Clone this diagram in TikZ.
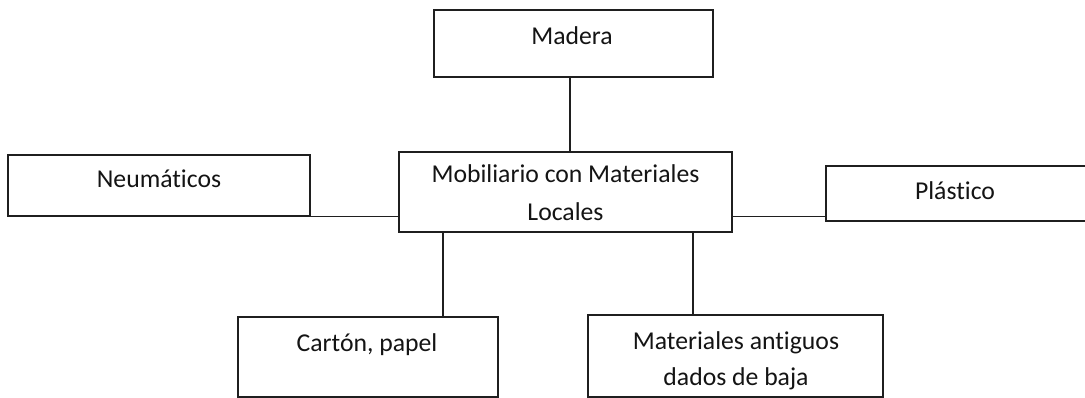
\documentclass[tikz,border=0pt]{standalone}
\usepackage{fontspec}
\setmainfont[Ligatures={NoCommon,TeX}]{Carlito}
\usetikzlibrary{calc}
\tikzset{
  box/.style={draw=black!88, line width=1.5pt, fill=white, inner sep=0pt, rectangle},
  lbl/.style={anchor=base, inner sep=0pt, font=\fontsize{25.7}{37}\selectfont, text=black!92},
  conn/.style={draw=black!88, line width=1.5pt},
}
\begin{document}
\begin{tikzpicture}[x=1pt,y=-1pt]
\useasboundingbox[fill=white] (0,0) rectangle (1085,398);
% boxes
\node[box, minimum width=279pt, minimum height=67pt] (madera) at (573.5,43.5) {};
\node[box, minimum width=333pt, minimum height=80pt] (mcl) at (565.5,192) {};
\node[box, minimum width=302pt, minimum height=61pt] (neu) at (159,185.5) {};
\node[box, minimum width=260pt, minimum height=55pt] (pla) at (956,193.5) {};
\node[box, minimum width=260pt, minimum height=80pt] (carton) at (368,357) {};
\node[box, minimum width=295pt, minimum height=82pt] (mat) at (735.5,356) {};
% texts
\node[lbl] (tmadera) at (572,45) {Madera};
\node[lbl] (tmcl1) at (565.5,183) {Mobiliario con Materiales};
\node[lbl] (tmcl2) at (565.5,221) {Locales};
\node[lbl] (tneu) at (159,188) {Neumáticos};
\node[lbl] (tpla) at (955,200) {Plástico};
\node[lbl] (tcarton) at (367,352) {Cartón, papel};
\node[lbl] (tmat1) at (736,349) {Materiales antiguos};
\node[lbl] (tmat2) at (736,385) {dados de baja};
% connectors
\draw[conn] ([xshift=-3.5pt]madera.south) -- ([xshift=-3.5pt]madera.south |- mcl.north);
\draw[conn] (neu.south east) -- (neu.south east -| mcl.west);
\draw[conn] (mcl.east |- neu.south east) -- (pla.west |- neu.south east);
\draw[conn] ([xshift=-122.5pt]mcl.south) -- ([xshift=-122.5pt]mcl.south |- carton.north);
\draw[conn] ([xshift=127.5pt]mcl.south) -- ([xshift=127.5pt]mcl.south |- mat.north);
\end{tikzpicture}
\end{document}
